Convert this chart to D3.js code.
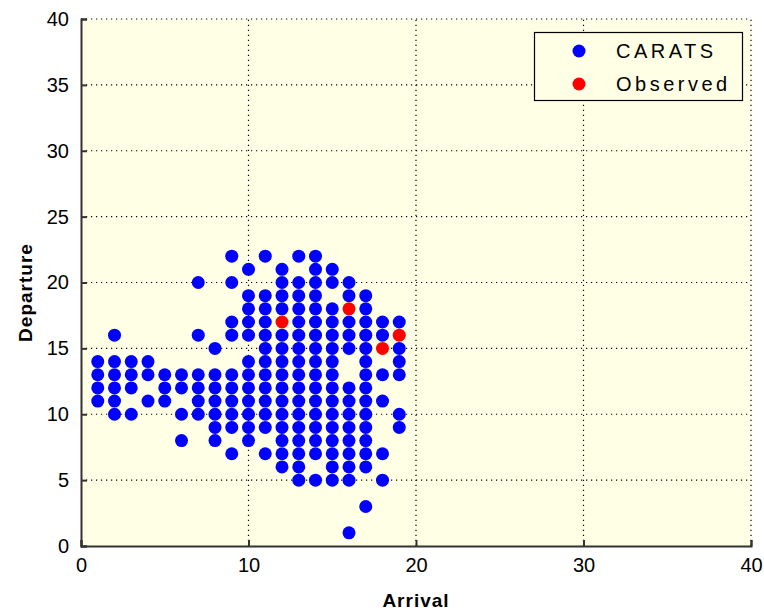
<!DOCTYPE html>
<html><head><meta charset="utf-8">
<script src="https://cdn.jsdelivr.net/npm/d3@7"></script>
<style>body{margin:0;background:#fff}svg{display:block}</style>
</head><body>
<script>
// Data
const xTicks = [0,10,20,30,40];
const yTicks = [0,5,10,15,20,25,30,35,40];
const seriesNames = ["CARATS","Observed"];
const caratsArrival = [1,2,3,4,5,6,7,8,9,10,11,12,13,14,15,16,17,18,19];
const caratsDeparture = [
  [11,12,13,14],
  [10,11,12,13,14,16],
  [10,12,13,14],
  [11,13,14],
  [11,12,13],
  [8,10,12,13],
  [10,11,12,13,16,20],
  [8,9,10,11,12,13,15],
  [7,9,10,11,12,13,16,17,20,22],
  [8,9,10,11,12,13,14,16,17,18,19,21],
  [7,9,10,11,12,13,14,15,16,17,18,19,22],
  [6,7,8,9,10,11,12,13,14,15,16,18,19,20,21],
  [5,6,7,8,9,10,11,12,13,14,15,16,17,18,19,20,22],
  [5,7,8,9,10,11,12,13,14,15,16,17,18,19,20,21,22],
  [5,6,7,8,9,10,11,12,13,14,15,16,17,18,20,21],
  [1,5,6,7,8,9,10,11,12,15,16,17,19,20],
  [3,6,7,8,9,10,11,12,13,14,15,16,17,18,19],
  [5,7,11,13,16,17],
  [9,10,13,14,15,17]
];
const observedArrival = [12,16,18,19];
const observedDeparture = [17,18,15,16];

const W = 764, H = 610;
const m = {left:81, right:13, top:19, bottom:64};
const svg = d3.select("body").append("svg").attr("width",W).attr("height",H);
const x = d3.scaleLinear().domain([0,40]).range([m.left, W-m.right]);
const y = d3.scaleLinear().domain([0,40]).range([H-m.bottom, m.top]);
const bg = "#ffffe5";

svg.append("rect").attr("x",x(0)).attr("y",y(40)).attr("width",x(40)-x(0)).attr("height",y(0)-y(40)).attr("fill",bg);

// grid
const g = svg.append("g");
g.selectAll("line.gx").data(xTicks.filter(d=>d>0)).join("line")
  .attr("x1",d=>x(d)).attr("x2",d=>x(d)).attr("y1",y(0)).attr("y2",y(40))
  .attr("stroke","#000").attr("stroke-width",1.2).attr("stroke-dasharray","1.2,3.8");
g.selectAll("line.gy").data(yTicks.filter(d=>d>0)).join("line")
  .attr("y1",d=>y(d)).attr("y2",d=>y(d)).attr("x1",x(0)).attr("x2",x(40))
  .attr("stroke","#000").attr("stroke-width",1.2).attr("stroke-dasharray","1.2,3.8");

// axes
const font = "'Liberation Sans', Arial, sans-serif";
const xAxis = svg.append("g").attr("transform",`translate(0,${y(0)})`)
  .call(d3.axisBottom(x).tickValues(xTicks).tickSize(-6).tickPadding(12).tickFormat(d3.format("d")));
const yAxis = svg.append("g").attr("transform",`translate(${x(0)},0)`)
  .call(d3.axisLeft(y).tickValues(yTicks).tickSize(-6).tickPadding(12).tickFormat(d3.format("d")));
[xAxis,yAxis].forEach(a=>{
  a.select(".domain").attr("stroke","#333").attr("stroke-width",2);
  a.selectAll(".tick line").attr("stroke","#333").attr("stroke-width",2);
  a.selectAll(".tick text").attr("font-family",font).attr("font-size",20).attr("fill","#000");
});
yAxis.selectAll(".tick text").attr("dx",0);

// titles
svg.append("text").attr("x",(x(0)+x(40))/2).attr("y",607).attr("text-anchor","middle")
  .attr("font-family",font).attr("font-weight","bold").attr("font-size",19).attr("letter-spacing",1)
  .text("Arrival");
svg.append("text").attr("transform",`translate(32,${(y(0)+y(40))/2+10}) rotate(-90)`).attr("text-anchor","middle")
  .attr("font-family",font).attr("font-weight","bold").attr("font-size",19).attr("letter-spacing",1)
  .text("Departure");

// points
const carats = [];
caratsArrival.forEach((a,i)=>caratsDeparture[i].forEach(dv=>carats.push({a, d:dv})));
svg.append("g").selectAll("circle").data(carats).join("circle")
  .attr("cx",d=>x(d.a)).attr("cy",d=>y(d.d)).attr("r",6.5).attr("fill","#0000ff");
svg.append("g").selectAll("circle").data(observedArrival.map((a,i)=>({a,d:observedDeparture[i]}))).join("circle")
  .attr("cx",d=>x(d.a)).attr("cy",d=>y(d.d)).attr("r",6.5).attr("fill","#ff0000");

// legend
const lg = svg.append("g");
lg.append("rect").attr("x",534.5).attr("y",32.5).attr("width",208).attr("height",68)
  .attr("fill",bg).attr("stroke","#000").attr("stroke-width",1.2);
const colors = ["#0000ff","#ff0000"];
seriesNames.forEach((n,i)=>{
  lg.append("circle").attr("cx",579).attr("cy",51+i*33).attr("r",6.5).attr("fill",colors[i]);
  lg.append("text").attr("x",616).attr("y",58+i*33).attr("font-family",font).attr("font-size",20)
    .attr("letter-spacing",3.5).attr("fill","#000").text(n);
});
</script>
</body></html>
